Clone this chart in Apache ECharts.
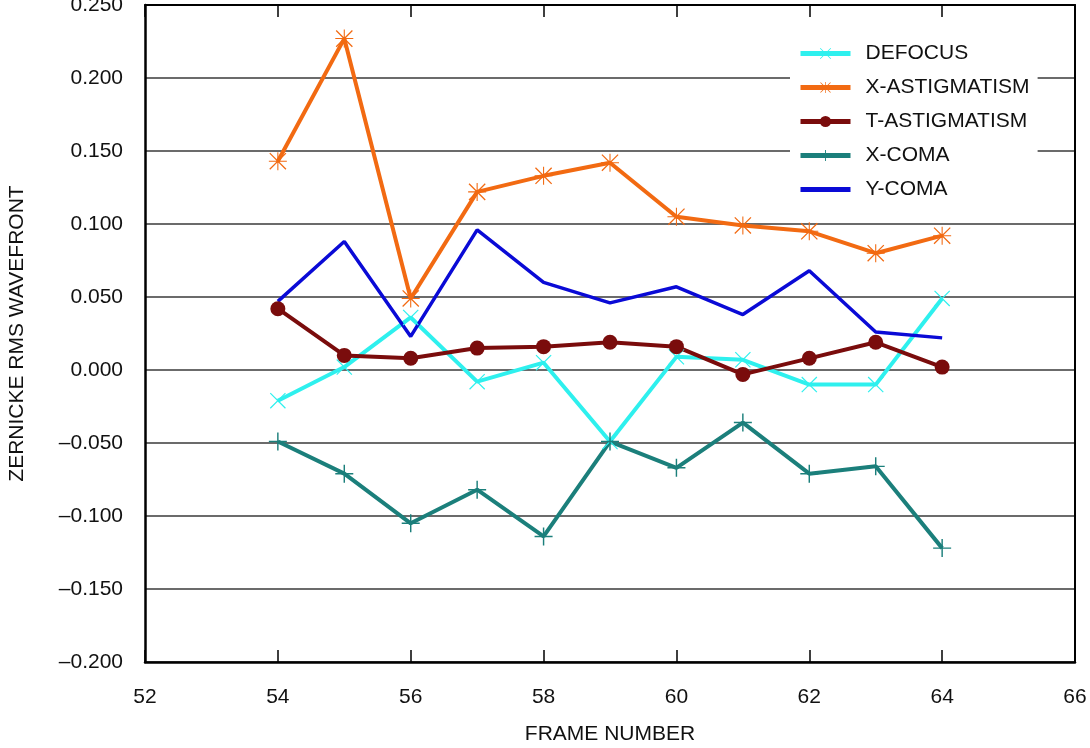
<!DOCTYPE html>
<html><head><meta charset="utf-8">
<script src="https://cdn.jsdelivr.net/npm/echarts@6/dist/echarts.min.js"></script>
<style>html,body{margin:0;padding:0;background:#fff}#c{width:1090px;height:748px}</style>
</head><body><div id="c"></div>
<script>
var frames = [54,55,56,57,58,59,60,61,62,63,64];
var defocus = [-0.021,0.002,0.036,-0.008,0.005,-0.049,0.009,0.007,-0.010,-0.010,0.049];
var xAstig = [0.143,0.227,0.049,0.122,0.133,0.142,0.105,0.099,0.095,0.080,0.092];
var tAstig = [0.042,0.010,0.008,0.015,0.016,0.019,0.016,-0.003,0.008,0.019,0.002];
var xComa = [-0.049,-0.071,-0.105,-0.082,-0.114,-0.049,-0.067,-0.036,-0.071,-0.066,-0.122];
var yComa = [0.047,0.088,0.023,0.096,0.060,0.046,0.057,0.038,0.068,0.026,0.022];
var seriesNames = ['DEFOCUS','X-ASTIGMATISM','T-ASTIGMATISM','X-COMA','Y-COMA'];

var FONT = '"Liberation Sans", Arial, sans-serif';
var FS = 21;
var plusPath = 'path://M0,9.2 L20,9.2 L20,10.8 L0,10.8 Z M9.2,0 L10.8,0 L10.8,20 L9.2,20 Z';
var xPath = 'path://M0.5,1.5 L1.5,0.5 L19.5,18.5 L18.5,19.5 Z M18.5,0.5 L19.5,1.5 L1.5,19.5 L0.5,18.5 Z';
var starPath = 'path://M0.5,1.5 L1.5,0.5 L19.5,18.5 L18.5,19.5 Z M18.5,0.5 L19.5,1.5 L1.5,19.5 L0.5,18.5 Z M0,9.4 L20,9.4 L20,10.6 L0,10.6 Z M9.4,0 L10.6,0 L10.6,20 L9.4,20 Z';

function pairs(arr){ return frames.map(function(f,i){ return [f, arr[i]]; }); }
function fmt(v){
  if (Math.abs(v) < 1e-9) return '0.000';
  return (v < 0 ? '\u2013' : '') + Math.abs(v).toFixed(3);
}
function mk(name, data, color, symbol, size, width){
  return {
    name: name, type: 'line', data: pairs(data),
    symbol: symbol, symbolSize: size, showSymbol: symbol !== 'none',
    lineStyle: {color: color, width: width || 4},
    itemStyle: {color: color, borderWidth: 0},
    emphasis: {disabled: true},
    animation: false
  };
}

var chart = echarts.init(document.getElementById('c'), null, {renderer: 'canvas'});
chart.setOption({
  backgroundColor: '#fff',
  textStyle: {fontFamily: FONT},
  grid: {left: 145, right: 15, top: 5, bottom: 86, show: false, outerBoundsMode: 'none', containLabel: false},
  legend: {
    orient: 'vertical', left: 790, top: 35,
    itemWidth: 50, itemHeight: 14, itemGap: 13,
    backgroundColor: '#fff', padding: [8, 8],
    lineStyle: {width: 5},
    textStyle: {fontSize: FS, color: '#111', fontFamily: FONT, padding: [0, 0, 0, 10]},
    data: ['DEFOCUS','X-ASTIGMATISM','T-ASTIGMATISM','X-COMA',
      {name: 'Y-COMA', itemStyle: {opacity: 0}}]
  },
  xAxis: [{
    type: 'value', min: 52, max: 66, interval: 2,
    name: 'FRAME NUMBER', nameLocation: 'middle', nameGap: 62,
    nameTextStyle: {fontSize: FS, color: '#111', fontFamily: FONT},
    axisLine: {show: true, onZero: false, lineStyle: {color: '#000', width: 2.5}},
    axisTick: {show: true, inside: true, length: 12, lineStyle: {color: '#000', width: 1.5}},
    axisLabel: {fontSize: FS, color: '#111', margin: 25, fontFamily: FONT},
    splitLine: {show: false}
  },{
    type: 'value', min: 52, max: 66, interval: 2, position: 'top',
    axisLine: {show: true, onZero: false, lineStyle: {color: '#000', width: 2}},
    axisTick: {show: true, inside: true, length: 12, lineStyle: {color: '#000', width: 1.5}},
    axisLabel: {show: false}, splitLine: {show: false}
  }],
  yAxis: [{
    type: 'value', min: -0.2, max: 0.25, interval: 0.05,
    name: 'ZERNICKE RMS WAVEFRONT', nameLocation: 'middle', nameGap: 117, nameRotate: 90,
    nameTextStyle: {fontSize: FS, color: '#111', fontFamily: FONT},
    axisLine: {show: true, onZero: false, lineStyle: {color: '#000', width: 2.5}},
    axisTick: {show: false},
    axisLabel: {fontSize: FS, color: '#111', margin: 22, formatter: fmt, fontFamily: FONT},
    splitLine: {show: true, lineStyle: {color: '#3a3a3a', width: 1.5}}
  },{
    type: 'value', min: -0.2, max: 0.25, interval: 0.05, position: 'right',
    axisLine: {show: true, onZero: false, lineStyle: {color: '#000', width: 2}},
    axisTick: {show: false}, axisLabel: {show: false}, splitLine: {show: false}
  }],
  series: [
    mk('DEFOCUS', defocus, '#2ef0ee', xPath, 16, 4),
    mk('X-ASTIGMATISM', xAstig, '#f26a12', starPath, 18, 4),
    mk('T-ASTIGMATISM', tAstig, '#7a0c0c', 'circle', 15, 4),
    mk('X-COMA', xComa, '#1b7f7b', plusPath, 18, 4),
    mk('Y-COMA', yComa, '#0a0ad6', 'none', 0, 3.5)
  ]
});
</script></body></html>
